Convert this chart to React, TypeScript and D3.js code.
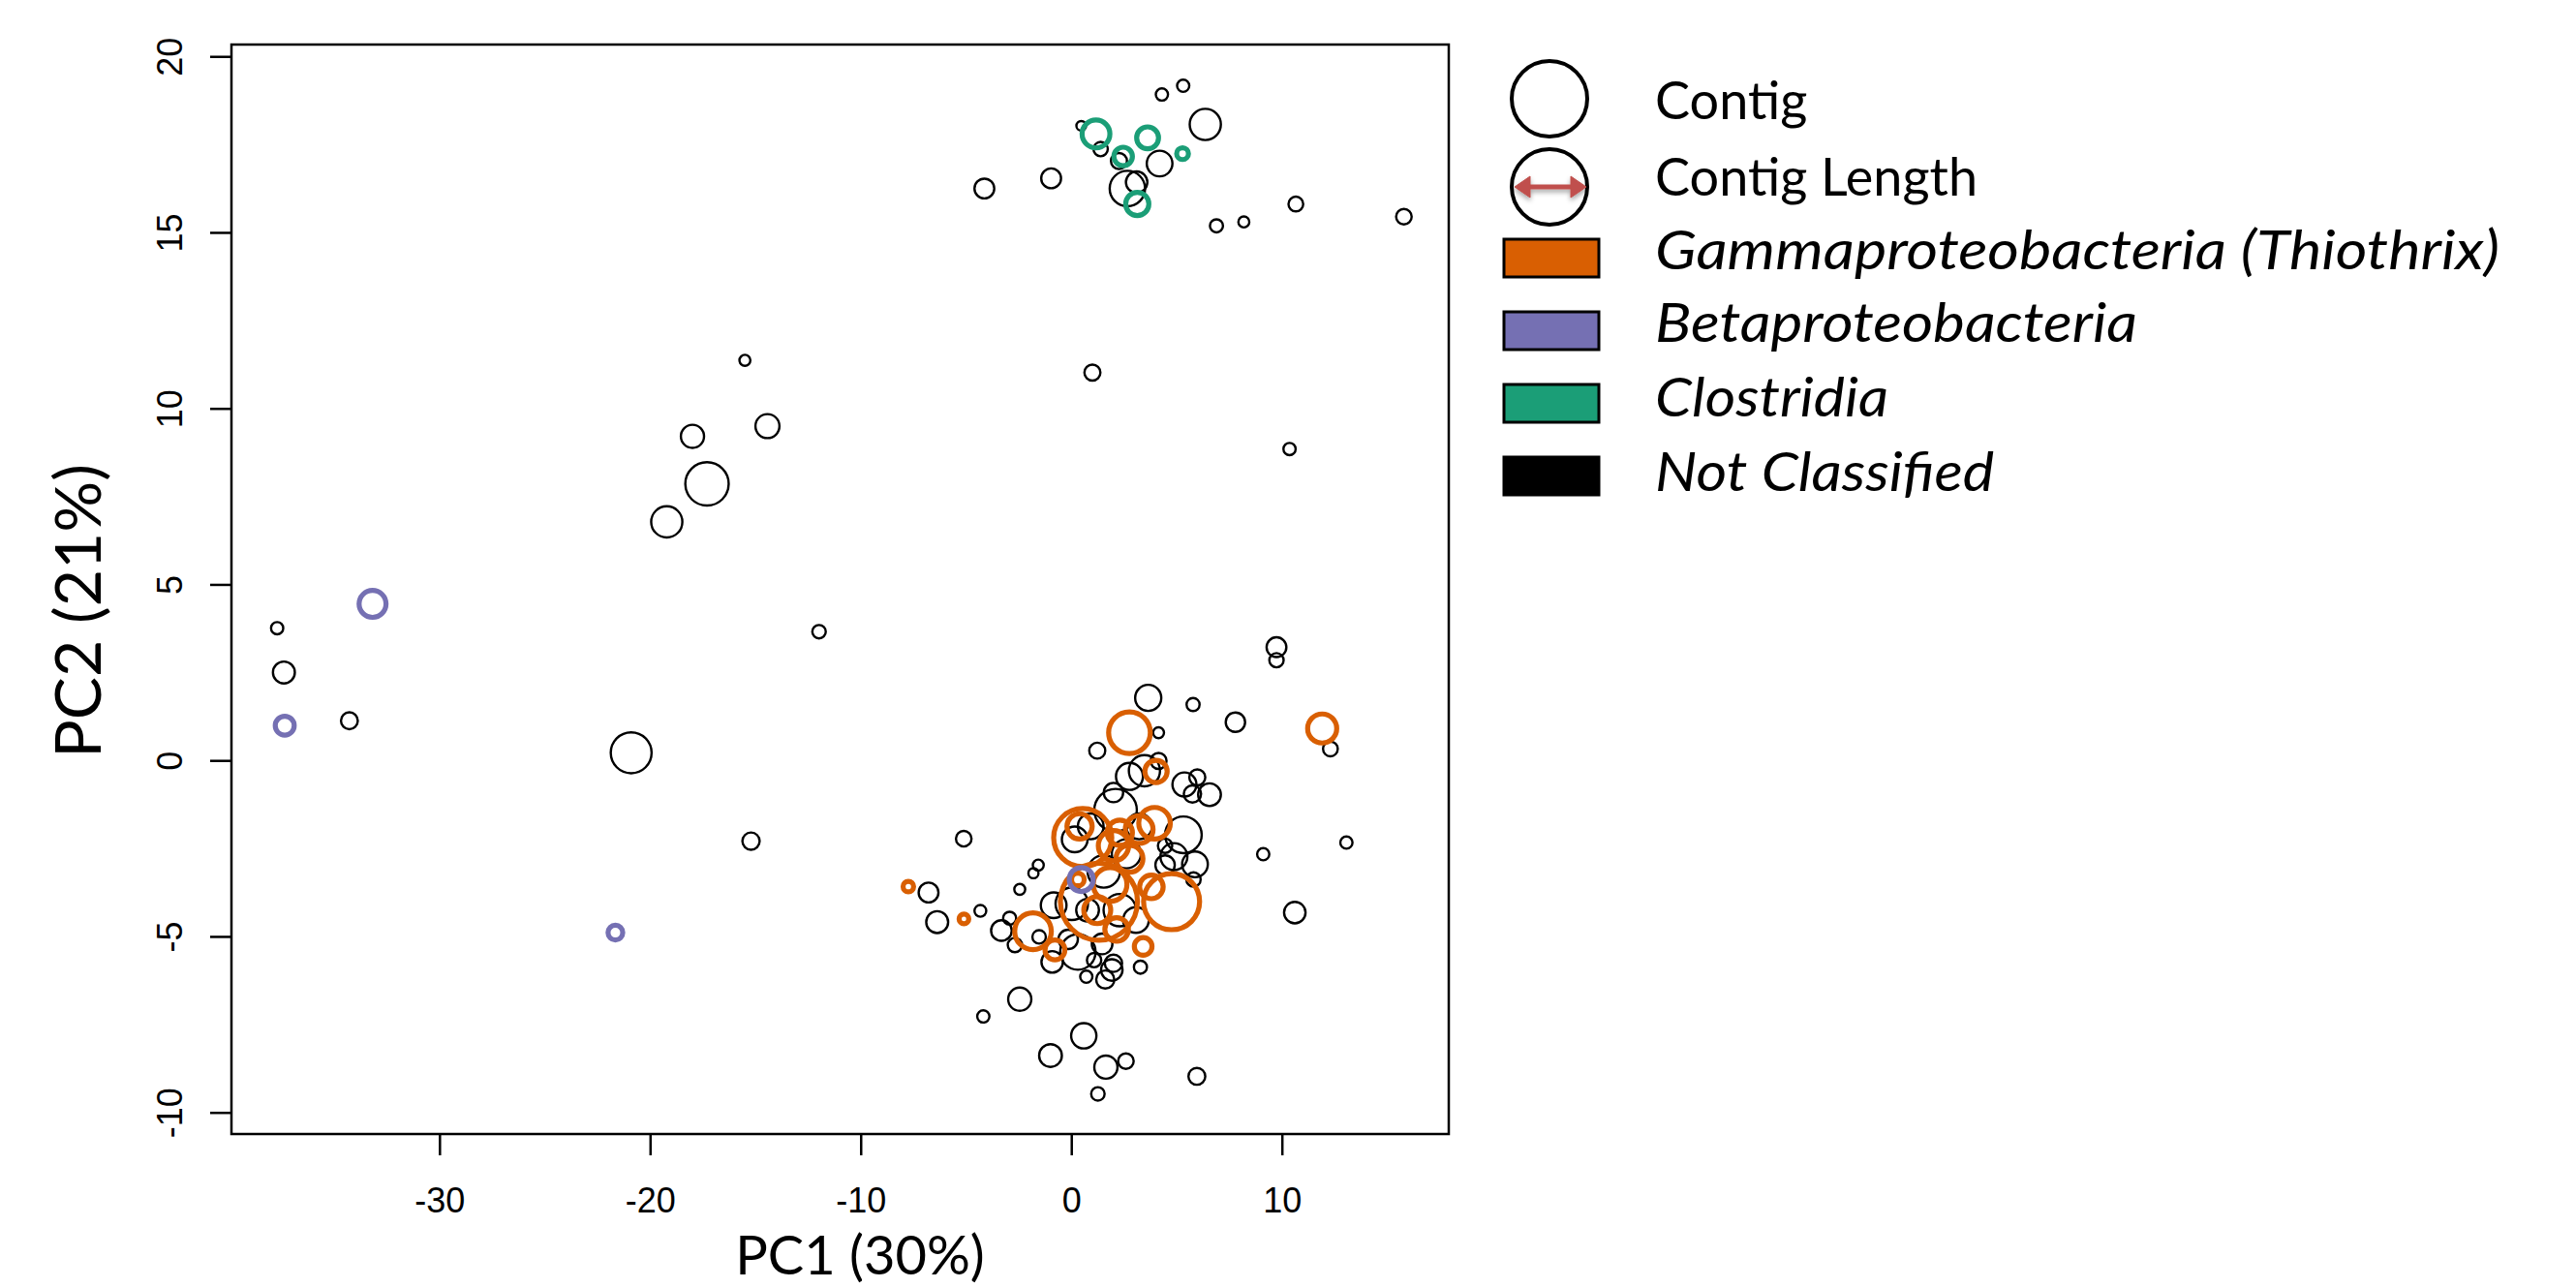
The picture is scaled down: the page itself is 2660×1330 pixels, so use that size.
import React from 'react';
import * as d3 from 'd3';

// Axis ticks
const xTicks = [-30, -20, -10, 0, 10];
const yTicks = [-10, -5, 0, 5, 10, 15, 20];

// Legend entries
const taxa = ['Gammaproteobacteria (Thiothrix)', 'Betaproteobacteria', 'Clostridia', 'Not Classified'];
const taxonColors = ['#D95F02', '#7570B3', '#1B9E77', '#000000'];

// Contigs: [PC1, PC2, circle radius in PC1 units (contig length)]
const notClassified: [number, number, number][] = [
  [-4.15, 16.26, 0.47], [-0.98, 16.55, 0.47], [0.45, 18.04, 0.23], [1.37, 17.38, 0.34], [2.24, 17.04, 0.38],
  [2.64, 16.26, 0.84], [3.08, 16.44, 0.51], [4.17, 16.97, 0.61], [4.28, 18.93, 0.29], [5.29, 19.18, 0.29],
  [6.34, 18.08, 0.74], [6.87, 15.2, 0.31], [8.17, 15.31, 0.26], [10.64, 15.82, 0.35], [15.77, 15.46, 0.37],
  [-15.52, 11.38, 0.26], [-18.01, 9.22, 0.55], [-14.45, 9.51, 0.57], [-17.32, 7.87, 1.03], [-19.23, 6.79, 0.74],
  [-12.0, 3.67, 0.32], [0.98, 11.03, 0.38], [-20.92, 0.23, 0.97], [-37.73, 3.77, 0.29], [-37.41, 2.51, 0.52],
  [-34.3, 1.14, 0.4],
  [10.34, 8.86, 0.29], [9.72, 3.23, 0.47], [9.72, 2.86, 0.34], [7.77, 1.1, 0.46], [12.28, 0.34, 0.35],
  [13.04, -2.32, 0.29], [9.09, -2.65, 0.29], [10.59, -4.31, 0.51], [5.76, 1.6, 0.31], [3.63, 1.79, 0.62],
  [-15.23, -2.28, 0.41], [-5.13, -2.21, 0.37], [-6.8, -3.74, 0.47], [-6.39, -4.58, 0.52], [-4.34, -4.26, 0.28],
  [-2.47, -3.65, 0.26], [-1.59, -2.96, 0.26], [-1.82, -3.19, 0.24], [-2.47, -6.77, 0.55], [-4.2, -7.26, 0.29],
  [-1.01, -8.37, 0.54], [0.57, -7.81, 0.6], [1.62, -8.7, 0.55], [2.57, -8.53, 0.37], [1.24, -9.46, 0.32],
  [5.94, -8.96, 0.4], [-3.34, -4.82, 0.49], [-2.95, -4.47, 0.31], [-2.7, -5.23, 0.34], [-0.86, -4.1, 0.61],
  [-0.93, -5.71, 0.51], [0.29, -5.43, 0.84], [-0.17, -5.07, 0.46], [1.44, -5.2, 0.49], [1.06, -5.66, 0.34],
  [1.98, -5.75, 0.41], [1.9, -5.94, 0.51], [1.59, -6.21, 0.43], [0.69, -6.13, 0.29], [3.26, -5.86, 0.31],
  [-1.55, -5.0, 0.32],
  [4.12, 0.8, 0.26], [1.21, 0.29, 0.38], [4.12, 0.0, 0.38], [3.45, -0.28, 0.74], [2.74, -0.44, 0.64],
  [5.35, -0.67, 0.57], [5.96, -0.47, 0.38], [5.73, -0.94, 0.41], [6.54, -0.96, 0.54], [1.98, -0.9, 0.46],
  [2.08, -1.4, 1.01],
  [0.14, -2.23, 0.61], [5.3, -2.1, 0.87], [5.85, -2.94, 0.61], [4.85, -2.72, 0.64], [5.78, -3.37, 0.34],
  [3.05, -4.52, 0.61], [2.28, -4.24, 0.77], [4.43, -2.96, 0.46], [4.43, -2.41, 0.34], [0.9, -1.86, 0.61],
  [0.0, -4.06, 0.77], [0.75, -4.24, 0.54], [1.52, -3.14, 0.77], [2.59, -2.64, 0.69], [3.2, -1.86, 0.61],
];

const gamma: [number, number, number][] = [
  [11.89, 0.92, 0.69], [-7.76, -3.57, 0.25], [-5.12, -4.49, 0.23], [2.74, 0.8, 0.99], [4.0, -0.3, 0.53],
  [0.52, -2.18, 1.38], [0.37, -1.86, 0.6], [3.93, -1.77, 0.75], [3.2, -1.95, 0.66], [4.74, -4.0, 1.33],
  [3.78, -3.58, 0.56], [1.29, -4.0, 1.83], [0.29, -3.37, 0.3], [-1.84, -4.84, 0.87], [-0.8, -5.37, 0.47],
  [3.39, -5.27, 0.42], [1.98, -2.41, 0.72], [2.74, -2.78, 0.64], [1.82, -3.51, 0.8], [1.21, -4.24, 0.64],
  [2.13, -4.79, 0.56], [2.28, -2.04, 0.6],
];

const beta: [number, number, number][] = [
  [-37.37, 1.0, 0.45], [-33.2, 4.46, 0.64], [-21.67, -4.88, 0.35], [0.45, -3.37, 0.57],
];

const clostridia: [number, number, number][] = [
  [1.15, 17.81, 0.66], [2.44, 17.17, 0.44], [3.11, 15.82, 0.55], [3.6, 17.7, 0.52], [5.26, 17.25, 0.28],
];

const W = 2660;
const H = 1330;
const plot = { left: 239, right: 1496, top: 46, bottom: 1171 };

export default function App() {
  const x = d3.scaleLinear().domain([-39.9, 17.9]).range([plot.left, plot.right]);
  const y = d3.scaleLinear().domain([-10.6, 20.35]).range([plot.bottom, plot.top]);
  const rpx = (r: number) => x(r) - x(0);

  const groups: { data: [number, number, number][]; color: string; sw: number }[] = [
    { data: notClassified, color: taxonColors[3], sw: 2.4 },
    { data: gamma, color: taxonColors[0], sw: 5.2 },
    { data: beta, color: taxonColors[1], sw: 5.2 },
    { data: clostridia, color: taxonColors[2], sw: 5.2 },
  ];

  const tickFont = '"Liberation Sans", Arial, Helvetica, sans-serif';
  const titleFont = 'Lato, "Open Sans", sans-serif';

  const legendX = 1553;
  const legendTextX = 1709;
  const squareTops = [247, 322, 397, 472];
  const textBaselines = [278, 353, 430, 507];
  const italicWidths = [872, 498, 241, 350];

  return (
    <svg width={W} height={H} style={{ position: 'absolute', left: 0, top: 0, background: '#fff' }}>
      <defs>
        <filter id="shadow" x="-30%" y="-100%" width="160%" height="300%">
          <feDropShadow dx="0" dy="3" stdDeviation="2.5" floodColor="#000" floodOpacity="0.35" />
        </filter>
      </defs>
      <rect x={0} y={0} width={W} height={H} fill="#fff" />

      {/* circles */}
      <g fill="none">
        {groups.map((g, gi) =>
          g.data.map((d, i) => (
            <circle key={`${gi}-${i}`} cx={x(d[0])} cy={y(d[1])} r={rpx(d[2])} stroke={g.color} strokeWidth={g.sw} />
          ))
        )}
      </g>

      {/* frame */}
      <rect x={plot.left} y={plot.top} width={plot.right - plot.left} height={plot.bottom - plot.top}
        fill="none" stroke="#000" strokeWidth={2.5} />

      {/* x axis */}
      {xTicks.map((t) => (
        <g key={`x${t}`}>
          <line x1={x(t)} x2={x(t)} y1={plot.bottom} y2={plot.bottom + 22} stroke="#000" strokeWidth={2.5} />
          <text x={x(t)} y={1252} textAnchor="middle" fontFamily={tickFont} fontSize={36} fill="#000">{t}</text>
        </g>
      ))}
      {/* y axis */}
      {yTicks.map((t) => (
        <g key={`y${t}`}>
          <line x1={plot.left - 22} x2={plot.left} y1={y(t)} y2={y(t)} stroke="#000" strokeWidth={2.5} />
          <text transform={`translate(188, ${y(t)}) rotate(-90)`} textAnchor="middle" fontFamily={tickFont}
            fontSize={36} fill="#000">{t}</text>
        </g>
      ))}

      {/* axis titles */}
      <text x={888} y={1316} textAnchor="middle" fontFamily={titleFont} fontSize={56} fill="#000">PC1 (30%)</text>
      <text transform="translate(104, 631) rotate(-90)" textAnchor="middle" fontFamily={titleFont} fontSize={66}
        fill="#000">PC2 (21%)</text>

      {/* legend */}
      <circle cx={1600} cy={102} r={39} fill="none" stroke="#000" strokeWidth={4} />
      <text x={legendTextX} y={123} fontFamily={titleFont} fontSize={54} fill="#000">Contig</text>
      <circle cx={1600} cy={193} r={39} fill="none" stroke="#000" strokeWidth={4} />
      <g filter="url(#shadow)" fill="#C0504D" stroke="#C0504D">
        <line x1={1576} x2={1626} y1={193} y2={193} strokeWidth={5} />
        <polygon points="1564,193 1580,182 1580,204" strokeWidth={1} />
        <polygon points="1638,193 1622,182 1622,204" strokeWidth={1} />
      </g>
      <text x={legendTextX} y={202} fontFamily={titleFont} fontSize={54} fill="#000">Contig Length</text>

      {taxa.map((t, i) => (
        <g key={t}>
          <rect x={legendX} y={squareTops[i]} width={98} height={39} fill={taxonColors[i]} stroke="#000" strokeWidth={3} />
          <text x={legendTextX} y={textBaselines[i]} fontFamily={titleFont} fontStyle="italic" fontSize={56}
            textLength={italicWidths[i]} lengthAdjust="spacingAndGlyphs" fill="#000">{t}</text>
        </g>
      ))}
    </svg>
  );
}
